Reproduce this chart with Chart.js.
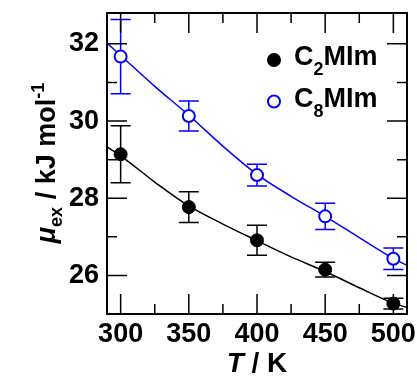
<!DOCTYPE html>
<html>
<head>
<meta charset="utf-8">
<script src="https://cdn.jsdelivr.net/npm/chart.js@4.4.1/dist/chart.umd.min.js"></script>
<style>
  html, body { margin: 0; padding: 0; background: #fff; }
  .wrap { width: 417px; height: 376px; position: relative; }
</style>
</head>
<body>
<div class="wrap"><canvas id="muChart"></canvas></div>
<script>
// measured points (T in K, mu_ex in kJ/mol) with error bars
const temps = [300, 350, 400, 450, 500];
const c2Mean = [29.14, 27.77, 26.91, 26.15, 25.27];
const c2Err = [0.74, 0.40, 0.39, 0.19, 0.14];
const c8Mean = [31.67, 30.13, 28.60, 27.53, 26.43];
const c8Err = [0.96, 0.39, 0.28, 0.34, 0.28];

// fitted curves
const fitT = [290, 300, 325, 350, 375, 400, 425, 450, 475, 500, 510];
const c2Fit = [29.33, 29.10, 28.42, 27.80, 27.33, 26.90, 26.48, 26.10, 25.68, 25.28, 25.17];
const c8Fit = [32.02, 31.70, 30.90, 30.15, 29.35, 28.62, 28.05, 27.53, 26.98, 26.44, 26.26];

const xTicks = [300, 350, 400, 450, 500];
const xMinor = [325, 375, 425, 475];
const yTicks = [26, 28, 30, 32];
const yMinor = [27, 29, 31];

const FONT = "'Liberation Sans', Arial, sans-serif";
const BLUE = "#0000ff";

const toXY = (xs, ys) => xs.map((x, i) => ({ x: x, y: ys[i] }));

const drawParts = (ctx, parts, x, y) => {
    // parts: [text, size, style, dy]
    let cx = x;
    parts.forEach(([txt, size, style, dy]) => {
        ctx.font = style + " " + size + "px " + FONT;
        ctx.fillText(txt, cx, y + dy);
        cx += ctx.measureText(txt).width;
    });
    return cx - x;
};

const partsWidth = (ctx, parts) => {
    let w = 0;
    parts.forEach(([txt, size, style]) => {
        ctx.font = style + " " + size + "px " + FONT;
        w += ctx.measureText(txt).width;
    });
    return w;
};

const extras = {
    id: "extras",
    beforeDatasetsDraw(chart) {
        const ctx = chart.ctx;
        const xs = chart.scales.x, ys = chart.scales.y;
        const series = [
            { mean: c2Mean, err: c2Err, color: "#000" },
            { mean: c8Mean, err: c8Err, color: BLUE },
        ];
        ctx.save();
        ctx.lineWidth = 1.5;
        series.forEach((s) => {
            ctx.strokeStyle = s.color;
            temps.forEach((t, i) => {
                const px = xs.getPixelForValue(t);
                const top = ys.getPixelForValue(s.mean[i] + s.err[i]);
                const bot = ys.getPixelForValue(s.mean[i] - s.err[i]);
                ctx.beginPath();
                ctx.moveTo(px, top); ctx.lineTo(px, bot);
                ctx.moveTo(px - 10, top); ctx.lineTo(px + 10, top);
                ctx.moveTo(px - 10, bot); ctx.lineTo(px + 10, bot);
                ctx.stroke();
            });
        });
        ctx.restore();
    },
    afterDraw(chart) {
        const ctx = chart.ctx;
        const a = chart.chartArea;
        const xs = chart.scales.x, ys = chart.scales.y;
        ctx.save();

        // box
        ctx.strokeStyle = "#000";
        ctx.lineWidth = 2;
        ctx.strokeRect(a.left, a.top, a.right - a.left, a.bottom - a.top);

        // inward ticks on all sides
        ctx.lineWidth = 1.5;
        ctx.beginPath();
        const xTick = (v, len) => {
            const px = xs.getPixelForValue(v);
            ctx.moveTo(px, a.bottom); ctx.lineTo(px, a.bottom - len);
            ctx.moveTo(px, a.top); ctx.lineTo(px, a.top + len);
        };
        const yTick = (v, len) => {
            const py = ys.getPixelForValue(v);
            ctx.moveTo(a.left, py); ctx.lineTo(a.left + len, py);
            ctx.moveTo(a.right, py); ctx.lineTo(a.right - len, py);
        };
        xTicks.forEach((v) => xTick(v, 20));
        xMinor.forEach((v) => xTick(v, 10));
        yTicks.forEach((v) => yTick(v, 20));
        yMinor.forEach((v) => yTick(v, 10));
        ctx.stroke();

        // legend
        ctx.fillStyle = "#000";
        ctx.beginPath();
        ctx.arc(274, 60, 7, 0, Math.PI * 2);
        ctx.fill();
        ctx.strokeStyle = BLUE;
        ctx.lineWidth = 2;
        ctx.fillStyle = "#fff";
        ctx.beginPath();
        ctx.arc(274, 101.5, 6, 0, Math.PI * 2);
        ctx.fill();
        ctx.stroke();

        ctx.fillStyle = "#000";
        ctx.textAlign = "left";
        ctx.textBaseline = "alphabetic";
        drawParts(ctx, [["C", 27, "bold", 0], ["2", 18, "bold", 10], ["MIm", 27, "bold", 0]], 294, 65);
        drawParts(ctx, [["C", 27, "bold", 0], ["8", 18, "bold", 10], ["MIm", 27, "bold", 0]], 294, 106.5);

        // x title
        const xParts = [["T", 28, "italic bold", 0], [" / K", 28, "bold", 0]];
        const xw = partsWidth(ctx, xParts);
        drawParts(ctx, xParts, (a.left + a.right) / 2 - xw / 2, 372);

        // y title, rotated
        const yParts = [
            ["\u03bc", 27, "italic bold", 0],
            ["ex", 18, "bold", 7],
            [" / kJ mol", 27, "bold", 0],
            ["-1", 18, "bold", -11],
        ];
        const yw = partsWidth(ctx, yParts);
        ctx.translate(55, 163);
        ctx.rotate(-Math.PI / 2);
        drawParts(ctx, yParts, -yw / 2, 0);

        ctx.restore();
    },
};

const tickFont = { family: FONT, size: 27, weight: "bold" };

new Chart(document.getElementById("muChart").getContext("2d"), {
    type: "scatter",
    data: {
        datasets: [
            {
                label: "C2MIm",
                data: toXY(temps, c2Mean),
                backgroundColor: "#000",
                borderColor: "#000",
                borderWidth: 1,
                pointRadius: 6.5,
                showLine: false,
            },
            {
                label: "C8MIm",
                data: toXY(temps, c8Mean),
                backgroundColor: "#fff",
                borderColor: BLUE,
                borderWidth: 2,
                pointRadius: 6,
                showLine: false,
            },
            {
                label: "C2MIm fit",
                data: toXY(fitT, c2Fit),
                borderColor: "#000",
                borderWidth: 1.5,
                pointRadius: 0,
                showLine: true,
                cubicInterpolationMode: "monotone",
            },
            {
                label: "C8MIm fit",
                data: toXY(fitT, c8Fit),
                borderColor: BLUE,
                borderWidth: 1.5,
                pointRadius: 0,
                showLine: true,
                cubicInterpolationMode: "monotone",
            },
        ],
    },
    options: {
        responsive: true,
        maintainAspectRatio: false,
        animation: false,
        devicePixelRatio: 1,
        layout: { padding: { top: 13, right: 10, left: 0, bottom: 0 } },
        scales: {
            x: {
                type: "linear",
                min: 290,
                max: 510,
                afterBuildTicks: (s) => { s.ticks = xTicks.map((v) => ({ value: v })); },
                afterFit: (s) => { s.height = 62; s.paddingLeft = 0; s.paddingRight = 0; },
                grid: { drawOnChartArea: false, drawTicks: false },
                border: { color: "#000", width: 2 },
                ticks: { color: "#000", font: tickFont, padding: 4, maxRotation: 0, autoSkip: false },
            },
            y: {
                type: "linear",
                min: 25,
                max: 32.8,
                afterBuildTicks: (s) => { s.ticks = yTicks.map((v) => ({ value: v })); },
                afterFit: (s) => { s.width = 107; s.paddingTop = 0; s.paddingBottom = 0; },
                grid: { drawOnChartArea: false, drawTicks: false },
                border: { color: "#000", width: 2 },
                ticks: { color: "#000", font: tickFont, padding: 8, autoSkip: false },
            },
        },
        plugins: {
            legend: { display: false },
            tooltip: { enabled: false },
        },
    },
    plugins: [extras],
});
</script>
</body>
</html>
